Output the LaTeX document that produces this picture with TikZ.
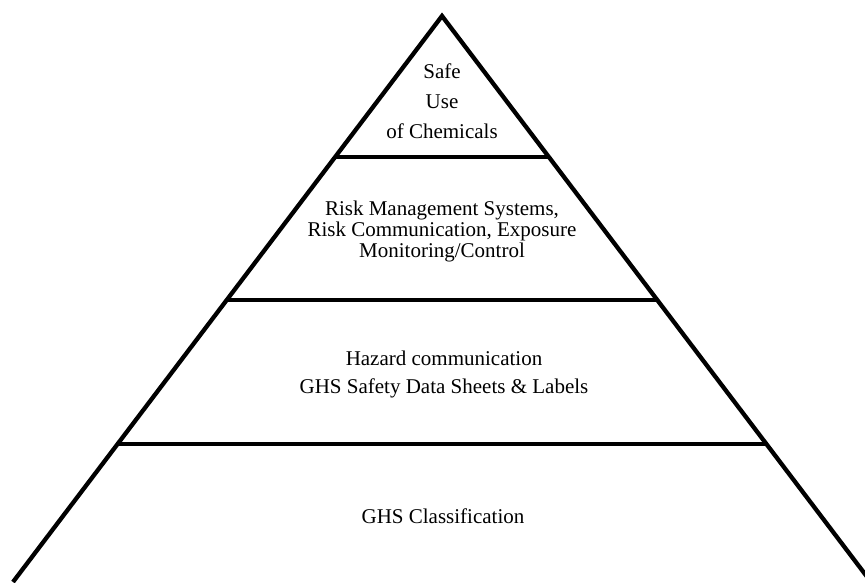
\documentclass[tikz,border=0pt]{standalone}
\usepackage{fontspec}
\setmainfont{Liberation Serif}
\usetikzlibrary{calc}
\begin{document}
\begin{tikzpicture}[x=1pt,y=-1pt,line width=4.3pt,
  tier/.style={align=center,inner sep=0pt,anchor=base}]
  \useasboundingbox (0,0) rectangle (865,582);
  \clip (0,0) rectangle (865,582);
  % outline of the pyramid
  \coordinate (apex) at (442,16);
  \coordinate (bl) at (13,582);
  \coordinate (br) at (871,582);
  \draw[line join=miter] (bl) -- (apex) -- (br);
  % the levels
  \foreach \t in {0.2495,0.5021,0.7562}{
    \draw ($(apex)!\t!(bl)$) -- ($(apex)!\t!(br)$);
  }
  \node[tier,font=\fontsize{21}{30}\selectfont] (safe) at (442,138) {Safe\\Use\\of Chemicals};
  \node[tier,font=\fontsize{21}{21}\selectfont] (risk) at (442,257) {Risk Management Systems,\\Risk Communication, Exposure\\Monitoring/Control};
  \node[tier,font=\fontsize{21}{28}\selectfont] (hazard) at (444,393) {Hazard communication\\GHS Safety Data Sheets \& Labels};
  \node[tier,font=\fontsize{21}{21}\selectfont] (ghs) at (443,523) {GHS Classification};
\end{tikzpicture}
\end{document}
